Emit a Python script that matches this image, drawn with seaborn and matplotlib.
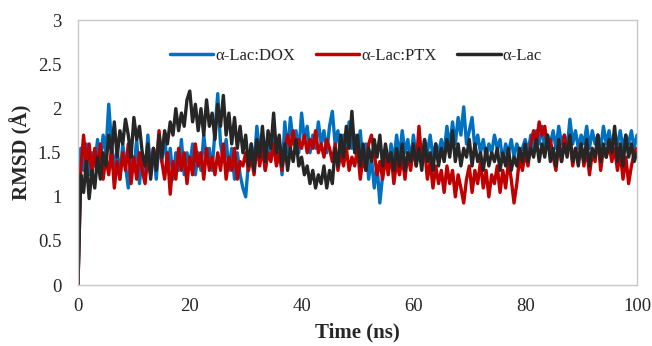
import numpy as np
import pandas as pd
import matplotlib
matplotlib.use("Agg")
import matplotlib.pyplot as plt
import seaborn as sns
from matplotlib.ticker import FuncFormatter

# time axis (ns), one sample every 0.5 ns
time_ns = np.arange(0, 100.5, 0.5)

series_names = ["α-Lac:DOX", "α-Lac:PTX", "α-Lac"]
series_colors = ["#0070C0", "#C00000", "#262626"]

rmsd_dox = [
    0, 1.55, 1.3, 1.6, 1.25, 1.5, 1.35, 1.65, 1.4, 1.7,
    1.5, 2.05, 1.6, 1.3, 1.55, 1.2, 1.6, 1.35, 1.1, 1.5,
    1.3, 1.65, 1.15, 1.5, 1.25, 1.7, 1.3, 1.55, 1.2, 1.6,
    1.4, 1.7, 1.3, 1.55, 1.2, 1.5, 1.3, 1.65, 1.25, 1.5,
    1.35, 1.6, 1.25, 1.5, 1.3, 1.7, 1.4, 1.55, 1.3, 1.75,
    2.17, 1.6, 1.4, 1.65, 1.3, 1.55, 1.2, 1.5, 1.25, 1.1,
    1.0, 1.4, 1.6, 1.35, 1.8, 1.5, 1.7, 1.3, 1.6, 1.45,
    1.75, 1.4, 1.6, 1.25, 1.85, 1.5, 1.9, 1.6, 1.75, 1.5,
    1.95, 1.65, 1.8, 1.5, 1.7, 1.55, 1.85, 1.6, 1.75, 1.5,
    1.8, 1.97, 1.6, 1.75, 1.45, 1.7, 1.5, 1.85, 1.55, 1.7,
    1.5, 1.75, 1.35, 1.6, 1.2, 1.45, 1.1, 1.35, 0.93, 1.25,
    1.5, 1.3, 1.6, 1.4, 1.7, 1.45, 1.75, 1.5, 1.65, 1.4,
    1.7, 1.45, 1.6, 1.4, 1.65, 1.5, 1.7, 1.45, 1.6, 1.5,
    1.65, 1.5, 1.8, 1.55, 1.85, 1.6, 1.9, 1.7, 2.02, 1.6,
    1.75, 1.9, 1.55, 1.7, 1.5, 1.65, 1.45, 1.6, 1.5, 1.7,
    1.55, 1.65, 1.4, 1.6, 1.5, 1.65, 1.45, 1.6, 1.5, 1.55,
    1.65, 1.5, 1.7, 1.55, 1.75, 1.6, 1.8, 1.55, 1.7, 1.6,
    1.75, 1.55, 1.8, 1.6, 1.7, 1.55, 1.88, 1.6, 1.75, 1.55,
    1.7, 1.6, 1.8, 1.55, 1.75, 1.6, 1.7, 1.55, 1.8, 1.6,
    1.75, 1.55, 1.7, 1.6, 1.75, 1.55, 1.7, 1.6, 1.75, 1.55,
    1.7,
]

rmsd_ptx = [
    0, 1.3, 1.7, 1.35, 1.6, 1.25, 1.55, 1.3, 1.6, 1.2,
    1.45, 1.25, 1.55, 1.1, 1.4, 1.2, 1.5, 1.3, 1.6, 1.15,
    1.45, 1.2, 1.5, 1.3, 1.15, 1.45, 1.25, 1.55, 1.35, 1.75,
    1.4, 1.2, 1.5, 1.03, 1.4, 1.2, 1.55, 1.3, 1.5, 1.15,
    1.45, 1.25, 1.6, 1.35, 1.5, 1.2, 1.55, 1.3, 1.45, 1.25,
    1.5, 1.3, 1.6, 1.2, 1.45, 1.3, 1.55, 1.2, 1.4, 1.35,
    1.5, 1.3, 1.45, 1.25, 1.6, 1.35, 1.55, 1.3, 1.5, 1.4,
    1.6, 1.35, 1.5, 1.3, 1.55, 1.7, 1.55, 1.75, 1.5, 1.65,
    1.55, 1.7, 1.5, 1.65, 1.55, 1.75, 1.5, 1.6, 1.45, 1.65,
    1.55, 1.4, 1.6, 1.3, 1.5, 1.35, 1.55, 1.3, 1.45, 1.35,
    1.55, 1.2, 1.45, 1.3, 1.6, 1.7, 1.5, 1.25, 1.4, 1.2,
    1.45, 1.25, 1.5, 1.15, 1.4, 1.25, 1.45, 1.2, 1.5, 1.3,
    1.55, 1.35, 1.8, 1.4, 1.55, 1.2, 1.4, 1.1, 1.35, 1.15,
    1.3, 1.05, 1.35, 1.15, 1.3, 1.0, 1.25, 1.1, 0.93, 1.2,
    1.35, 1.05, 1.3, 1.15, 1.4, 1.1, 1.3, 1.0, 1.25, 1.15,
    1.35, 1.05, 1.3, 1.1, 1.4, 1.2, 0.93, 1.15, 1.45, 1.3,
    1.5, 1.35, 1.6, 1.75, 1.6, 1.85, 1.7, 1.8, 1.55, 1.65,
    1.45, 1.3, 1.6, 1.4, 1.7, 1.5, 1.65, 1.35, 1.55, 1.4,
    1.6, 1.35, 1.55, 1.25, 1.5, 1.4, 1.7, 1.3, 1.55, 1.45,
    1.6, 1.4, 1.55, 1.3, 1.5, 1.2, 1.45, 1.15, 1.35, 1.5,
    1.55,
]

rmsd_apo = [
    0, 1.25, 1.05, 1.4, 0.98, 1.3, 1.1, 1.45, 1.2, 1.5,
    1.35, 1.7, 1.5, 1.85, 1.45, 1.75, 1.6, 1.88, 1.7, 1.45,
    1.9, 1.65, 1.8, 1.5, 1.35, 1.6, 1.2, 1.55, 1.3, 1.7,
    1.45, 1.75, 1.6, 1.85, 1.7, 2.0, 1.75, 1.95, 1.8, 2.1,
    2.2, 1.85, 2.05, 1.75, 2.0, 1.7, 2.1, 1.8, 1.95, 1.65,
    2.05, 1.8, 2.15, 1.7, 1.95, 1.6, 1.9, 1.55, 1.8, 1.5,
    1.7, 1.35, 1.6, 1.3, 1.65, 1.45, 1.8, 1.4, 1.75, 1.55,
    1.95, 1.5, 1.7, 1.35, 1.6, 1.3, 1.55, 1.4, 1.65, 1.35,
    1.45, 1.25, 1.35, 1.15, 1.3, 1.1, 1.25, 1.15, 1.35, 1.1,
    1.3, 1.15, 1.55, 1.35, 1.7, 1.45, 1.8, 1.55, 1.97, 1.5,
    1.7, 1.35, 1.6, 1.3, 1.55, 1.4, 1.65, 1.45, 1.7, 1.35,
    1.6, 1.4, 1.5, 1.3, 1.55, 1.35, 1.6, 1.3, 1.5, 1.4,
    1.6, 1.35, 1.55, 1.3, 1.65, 1.4, 1.5, 1.3, 1.6, 1.35,
    1.55, 1.4, 1.65, 1.45, 1.75, 1.4, 1.6, 1.35, 1.55, 1.45,
    1.65, 1.35, 1.6, 1.4, 1.5, 1.3, 1.55, 1.35, 1.5, 1.4,
    1.55, 1.3, 1.5, 1.35, 1.55, 1.3, 1.45, 1.35, 1.55, 1.4,
    1.6, 1.4, 1.55, 1.45, 1.65, 1.4, 1.6, 1.45, 1.7, 1.4,
    1.55, 1.35, 1.65, 1.4, 1.6, 1.45, 1.7, 1.4, 1.55, 1.35,
    1.6, 1.4, 1.65, 1.35, 1.55, 1.45, 1.7, 1.4, 1.6, 1.45,
    1.65, 1.5, 1.8, 1.4, 1.6, 1.35, 1.7, 1.45, 1.6, 1.4,
    1.5,
]

x_ticks = [0, 20, 40, 60, 80, 100]
y_ticks = [0, 0.5, 1, 1.5, 2, 2.5, 3]

frames = []
for name, vals in zip(series_names, [rmsd_dox, rmsd_ptx, rmsd_apo]):
    frames.append(pd.DataFrame({"Time": time_ns, "RMSD": vals, "System": name}))
df = pd.concat(frames, ignore_index=True)

sns.set_style("white")
plt.rcParams["font.family"] = ["Liberation Serif", "DejaVu Serif"]

fig = plt.figure(figsize=(6.52, 3.46), dpi=100)
ax = fig.add_axes([0.1196, 0.1763, 0.8574, 0.7645])

sns.lineplot(data=df, x="Time", y="RMSD", hue="System", hue_order=series_names,
             palette=series_colors, linewidth=2.4, ax=ax, estimator=None,
             sort=False)

ax.set_xlim(0, 100)
ax.set_ylim(0, 3)
ax.set_xticks(x_ticks)
ax.set_yticks(y_ticks)
ax.yaxis.set_major_formatter(FuncFormatter(lambda v, p: f"{v:g}"))
ax.tick_params(axis="x", direction="in", length=6, color="#BFBFBF",
               labelsize=13.5, pad=9)
ax.tick_params(axis="y", length=0, labelsize=13.5, pad=12)
for s in ax.spines.values():
    s.set_color("#C8C8C8")
    s.set_linewidth(1.0)

ax.set_xlabel("Time (ns)", fontsize=15, fontweight="bold", labelpad=6)
ax.set_ylabel("RMSD (Å)", fontsize=15, fontweight="bold", labelpad=4)

leg = ax.legend(loc="center", bbox_to_anchor=(0.497, 0.865), ncol=3,
                frameon=False, fontsize=12, handlelength=2.6,
                handletextpad=0.12, columnspacing=1.25)
for ln in leg.get_lines():
    ln.set_linewidth(2.5)

fig.savefig("out.png", dpi=100)
